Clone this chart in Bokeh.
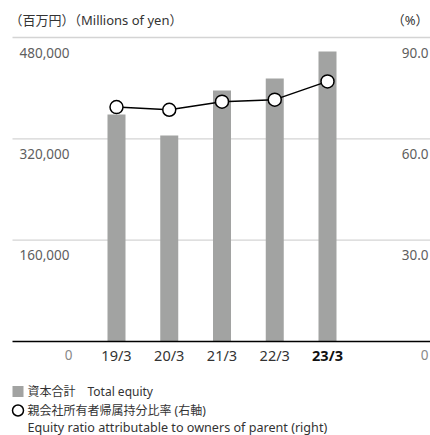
from bokeh.plotting import figure
from bokeh.models import Range1d, ColumnDataSource
from bokeh.core.properties import value
from bokeh.embed import file_html
from bokeh.resources import INLINE

# ---- data ----
years = ["19/3", "20/3", "21/3", "22/3", "23/3"]
total_equity = [358400, 325300, 396300, 415300, 457900]
equity_ratio = [69.4, 68.6, 71.0, 71.6, 77.0]
left_ticks = [0, 160000, 320000, 480000]
left_labels = ["0", "160,000", "320,000", "480,000"]
right_ticks = [0, 30, 60, 90]
right_labels = ["0", "30.0", "60.0", "90.0"]
title_left = "（百万円）（Millions of yen）"
title_right = "（%）"
legend_bar = "資本合計　Total equity"
legend_line = "親会社所有者帰属持分比率 (右軸)"
legend_line_en = "Equity ratio attributable to owners of parent (right)"

# ---- layout (pixels) ----
W, H = 430, 435
STEP = 52.75          # px between categories
FIRST = 116           # px from left edge to first category centre
Y0, YTOP = 341, 37    # px of value 0 and of top tick
LMAX, RMAX = left_ticks[-1], right_ticks[-1]

x_start = -FIRST / STEP
x_end = x_start + W / STEP


def dx(px):
    return x_start + px / STEP


def dy(py, vmax=LMAX):
    return (Y0 - py) / (Y0 - YTOP) * vmax


FONT = value("'Noto Sans', 'Noto Sans CJK JP', sans-serif")
BAR = "#a2a3a2"

p = figure(width=W, height=H, output_backend="svg", toolbar_location=None,
           x_axis_location=None, y_axis_location=None,
           x_range=Range1d(x_start, x_end),
           y_range=Range1d(dy(H), dy(0)),
           min_border=0, min_border_left=0, min_border_right=0,
           min_border_top=0, min_border_bottom=0)
p.extra_y_ranges = {"pct": Range1d(dy(H, RMAX), dy(0, RMAX))}
p.outline_line_color = None
p.background_fill_color = "white"
p.border_fill_color = "white"
p.xgrid.visible = False
p.ygrid.visible = False

idx = list(range(len(years)))

# grid lines (from the tick values)
gt = left_ticks[1:]
p.multi_line(xs=[[dx(12), x_end] for _ in gt], ys=[[t, t] for t in gt],
             line_color="#d4d4d4", line_width=1.3)

# bars
src = ColumnDataSource(dict(x=idx, top=total_equity, ratio=equity_ratio,
                            label=years,
                            style=["normal"] * (len(years) - 1) + ["bold"],
                            color=["#333333"] * (len(years) - 1) + ["#111111"]))
p.vbar(x="x", top="top", bottom=0, width=18 / STEP, source=src,
       fill_color=BAR, line_color=None)

# baseline
p.line(x=[dx(12), x_end], y=[left_ticks[0], left_ticks[0]],
       line_color="black", line_width=1.3)

# ratio line
p.line(x="x", y="ratio", source=src, y_range_name="pct",
       line_color="black", line_width=1.5)
p.scatter(x="x", y="ratio", source=src, y_range_name="pct", size=13,
          fill_color="white", line_color="black", line_width=1.5)

# tick labels (left)
p.text(x=[x_start] * 3, y=left_ticks[1:], text=left_labels[1:],
       x_offset=19, y_offset=15, text_baseline="middle", text_align="left",
       text_font=FONT, text_font_size="13.5px", text_color="#5e5e5e")
p.text(x=[x_start], y=[left_ticks[0]], text=[left_labels[0]],
       x_offset=68, y_offset=13, text_baseline="middle", text_align="center",
       text_font=FONT, text_font_size="13.5px", text_color="#888888")
# tick labels (right)
p.text(x=[x_end] * 3, y=right_ticks[1:], text=right_labels[1:],
       x_offset=-2, y_offset=15, text_baseline="middle", text_align="right",
       text_font=FONT, text_font_size="13.5px", text_color="#5e5e5e",
       y_range_name="pct")
p.text(x=[x_end], y=[right_ticks[0]], text=[right_labels[0]],
       x_offset=-2, y_offset=13, text_baseline="middle", text_align="right",
       text_font=FONT, text_font_size="13.5px", text_color="#888888",
       y_range_name="pct")

# category labels
p.text(x="x", y=0, text="label", source=src, y_offset=13,
       text_baseline="middle", text_align="center", text_font=FONT,
       text_font_size="14.5px", text_font_style="style", text_color="color")

# titles
p.text(x=[dx(9)], y=[dy(19)], text=[title_left], text_baseline="middle",
       text_align="left", text_font=FONT, text_font_size="13px",
       text_color="#333333")
p.text(x=[dx(428)], y=[dy(19)], text=[title_right], text_baseline="middle",
       text_align="right", text_font=FONT, text_font_size="13px",
       text_color="#333333")

# legend
p.scatter(x=[dx(17.5)], y=[dy(391)], marker="square", size=11,
          fill_color=BAR, line_color=None)
p.scatter(x=[dx(17.5)], y=[dy(410)], size=11, fill_color="white",
          line_color="black", line_width=1.5)
p.text(x=[dx(27)] * 2, y=[dy(391), dy(410)],
       text=[legend_bar, legend_line],
       text_baseline="middle", text_align="left", text_font=FONT,
       text_font_size="12px", text_color="#333333")
p.text(x=[dx(27)], y=[dy(427)], text=[legend_line_en],
       text_baseline="middle", text_align="left", text_font=FONT,
       text_font_size="12.6px", text_color="#333333")

open("out.html", "w").write(file_html(p, INLINE))
